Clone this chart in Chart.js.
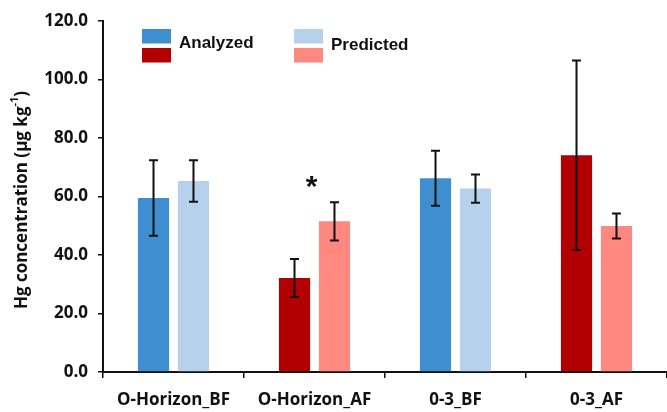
<!DOCTYPE html>
<html>
<head>
<meta charset="utf-8">
<script src="https://cdn.jsdelivr.net/npm/chart.js@4.4.1/dist/chart.umd.min.js"></script>
<style>
    html, body { margin: 0; padding: 0; background: #fff; }
    #wrap { width: 667px; height: 412px; position: relative; }
</style>
</head>
<body>
<div id="wrap"><canvas id="hgChart"></canvas></div>

<script>
    // Данные
    const categories = ['O-Horizon_BF', 'O-Horizon_AF', '0-3_BF', '0-3_AF'];
    const seriesNames = ['Analyzed', 'Predicted'];
    const analyzed = [59.5, 32.1, 66.2, 74.1];
    const analyzedSd = [12.9, 6.5, 9.4, 32.4];
    const predicted = [65.3, 51.5, 62.7, 49.9];
    const predictedSd = [7.1, 6.5, 4.8, 4.3];
    const yTicks = [0, 20, 40, 60, 80, 100, 120];
    const yTitle = 'Hg concentration (μg kg';
    const yTitleSup = '-1';
    const sigMark = { category: 1, value: 65.5, text: '*' };

    // Цвета: до пожара (BF) синие, после (AF) красные
    const analyzedColors = ['#3f8fd0', '#b20000', '#3f8fd0', '#b20000'];
    const predictedColors = ['#b5d1eb', '#ff8880', '#b5d1eb', '#ff8880'];

    const tickFont = { family: 'Open Sans', weight: 'bold', size: 17 };
    const catFont = { family: 'Open Sans', weight: 'bold', size: 17 };

    // Планки погрешностей, легенда, звёздочка и подпись оси
    const extrasPlugin = {
        id: 'extras',
        afterDatasetsDraw(chart) {
            const ctx = chart.ctx;
            const y = chart.scales.y;
            const sds = [analyzedSd, predictedSd];
            ctx.save();
            ctx.strokeStyle = '#111';
            ctx.lineWidth = 2;
            chart.data.datasets.forEach((ds, i) => {
                chart.getDatasetMeta(i).data.forEach((bar, j) => {
                    const v = ds.data[j], sd = sds[i][j];
                    const top = y.getPixelForValue(v + sd);
                    const bot = y.getPixelForValue(v - sd);
                    ctx.beginPath();
                    ctx.moveTo(bar.x, top); ctx.lineTo(bar.x, bot);
                    ctx.moveTo(bar.x - 4.5, top); ctx.lineTo(bar.x + 4.5, top);
                    ctx.moveTo(bar.x - 4.5, bot); ctx.lineTo(bar.x + 4.5, bot);
                    ctx.stroke();
                });
            });

            // звёздочка значимости
            ctx.fillStyle = '#111';
            ctx.font = 'bold 30px "Liberation Sans"';
            ctx.textAlign = 'center';
            ctx.textBaseline = 'middle';
            const sx = chart.scales.x.getPixelForValue(sigMark.category);
            ctx.fillText(sigMark.text, sx - 3, y.getPixelForValue(sigMark.value) + 7);

            // легенда: по два образца цвета на серию
            const legend = [
                { x: 142, colors: [analyzedColors[0], analyzedColors[1]], label: seriesNames[0], ty: 43 },
                { x: 294, colors: [predictedColors[0], predictedColors[1]], label: seriesNames[1], ty: 45 }
            ];
            ctx.textAlign = 'left';
            ctx.font = 'bold 17px "Liberation Sans"';
            legend.forEach(l => {
                ctx.fillStyle = l.colors[0];
                ctx.fillRect(l.x, 29, 29, 14.5);
                ctx.fillStyle = l.colors[1];
                ctx.fillRect(l.x, 48, 29, 14.5);
                ctx.fillStyle = '#111';
                ctx.fillText(l.label, l.x + 37, l.ty);
            });

            // подпись оси Y с надстрочным индексом
            ctx.translate(22, 200);
            ctx.rotate(-Math.PI / 2);
            ctx.font = 'bold 17px "Open Sans"';
            const w1 = ctx.measureText(yTitle).width;
            ctx.font = 'bold 11px "Open Sans"';
            const w2 = ctx.measureText(yTitleSup).width;
            ctx.font = 'bold 17px "Open Sans"';
            const w3 = ctx.measureText(')').width;
            let x0 = -(w1 + w2 + w3) / 2;
            ctx.fillText(yTitle, x0, 0);
            ctx.font = 'bold 11px "Open Sans"';
            ctx.fillText(yTitleSup, x0 + w1, -7);
            ctx.font = 'bold 17px "Open Sans"';
            ctx.fillText(')', x0 + w1 + w2, 0);
            ctx.restore();
        }
    };

    const config = {
        type: 'bar',
        data: {
            labels: categories,
            datasets: [
                {
                    label: seriesNames[0],
                    data: analyzed,
                    backgroundColor: analyzedColors,
                    categoryPercentage: 0.567,
                    barPercentage: 0.78
                },
                {
                    label: seriesNames[1],
                    data: predicted,
                    backgroundColor: predictedColors,
                    categoryPercentage: 0.567,
                    barPercentage: 0.78
                }
            ]
        },
        options: {
            responsive: false,
            animation: false,
            devicePixelRatio: 1,
            layout: { padding: { top: 21, left: 0, right: 0, bottom: 0 } },
            plugins: {
                legend: { display: false },
                tooltip: { enabled: false }
            },
            scales: {
                x: {
                    grid: {
                        display: true,
                        drawOnChartArea: false,
                        drawTicks: true,
                        tickLength: 6,
                        color: '#111',
                        lineWidth: 1.5
                    },
                    border: { display: true, color: '#111', width: 2 },
                    ticks: { color: '#111', font: catFont, padding: 12 },
                    afterFit(scale) { scale.height = 40; }
                },
                y: {
                    min: 0,
                    max: 120,
                    afterBuildTicks(scale) { scale.ticks = yTicks.map(v => ({ value: v })); },
                    grid: {
                        display: true,
                        drawOnChartArea: false,
                        drawTicks: true,
                        tickLength: 5,
                        color: '#111',
                        lineWidth: 1.5
                    },
                    border: { display: true, color: '#111', width: 2 },
                    ticks: {
                        color: '#111',
                        font: tickFont,
                        padding: 10,
                        callback: v => v.toFixed(1)
                    },
                    afterFit(scale) { scale.width = 103; }
                }
            }
        },
        plugins: [extrasPlugin]
    };

    const canvas = document.getElementById('hgChart');
    canvas.width = 667;
    canvas.height = 412;
    new Chart(canvas, config);
</script>
</body>
</html>
